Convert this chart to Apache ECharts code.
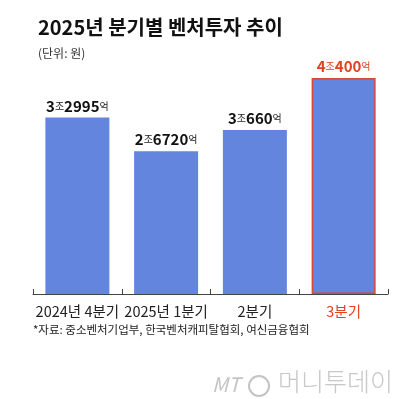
<!DOCTYPE html>
<html>
<head>
<meta charset="utf-8">
<script src="https://cdn.jsdelivr.net/npm/echarts@6/dist/echarts.min.js"></script>
<style>
  html, body { margin: 0; padding: 0; background: #fff; }
  #main { width: 420px; height: 399px; }
</style>
</head>
<body>
<div id="main"></div>
<script>
// 분기별 벤처투자 (단위: 억원)
var quarters = ['2024년 4분기', '2025년 1분기', '2분기', '3분기'];
var amounts = [32995, 26720, 30660, 40400];
var highlightIndex = 3;

var FONT = '"Noto Sans CJK KR", "Noto Sans", sans-serif';
var BLUE = '#6385de';
var RED = '#e2431f';

var chart = echarts.init(document.getElementById('main'));

var barData = amounts.map(function (v, i) {
    var hi = i === highlightIndex;
    return {
        value: v,
        itemStyle: hi ? {color: BLUE, borderColor: '#d9463a', borderWidth: 1.5} : {color: BLUE},
        label: {
            // 3조2995억 형식으로
            formatter: function (p) {
                var jo = Math.floor(p.value / 10000);
                var eok = p.value % 10000;
                var s = hi ? 'r' : 'b';
                return '{' + s + 'n|' + jo + '}{' + s + 'u|조}{' + s + 'n|' + eok + '}{' + s + 'u|억}';
            }
        }
    };
});

var option = {
    backgroundColor: '#fff',
    animation: false,
    title: [{
        text: '2025년 분기별 벤처투자 추이',
        left: 33, top: 12,
        textStyle: {fontFamily: FONT, fontSize: 20, fontWeight: 'bold', color: '#111', letterSpacing: -0.4}
    }, {
        text: '(단위: 원)',
        left: 33, top: 42,
        textStyle: {fontFamily: FONT, fontSize: 12, fontWeight: 'normal', color: '#333'}
    }],
    grid: {left: 33, right: 32, top: 78, bottom: 105},
    xAxis: {
        type: 'category',
        data: quarters,
        axisLine: {lineStyle: {color: '#444', width: 1}},
        axisTick: {show: true, inside: true, length: 5, lineStyle: {color: '#444'}},
        axisLabel: {
            interval: 0,
            margin: 10,
            fontFamily: FONT,
            fontSize: 14.5,
            letterSpacing: -0.3,
            color: function (val, idx) { return idx === highlightIndex ? RED : '#222'; }
        }
    },
    yAxis: {
        type: 'value',
        min: 0,
        max: 40400,
        show: false,
        splitLine: {show: false}
    },
    series: [{
        type: 'bar',
        barWidth: 64,
        data: barData,
        label: {
            show: true,
            position: 'top',
            distance: 4,
            rich: {
                bn: {fontFamily: FONT, fontSize: 15, fontWeight: 'bold', color: '#111', letterSpacing: -1.5},
                bu: {fontFamily: FONT, fontSize: 10, color: '#222'},
                rn: {fontFamily: FONT, fontSize: 15, fontWeight: 'bold', color: RED, letterSpacing: -1.5},
                ru: {fontFamily: FONT, fontSize: 10, color: RED}
            }
        }
    }],
    graphic: [{
        type: 'text',
        left: 33, top: 324,
        style: {text: '*자료: 중소벤처기업부, 한국벤처캐피탈협회, 여신금융협회', fontFamily: FONT, fontSize: 11.5, letterSpacing: -0.9, fill: '#222'}
    }, {
        type: 'text',
        left: 212, top: 374,
        style: {text: 'MT', fontFamily: FONT, fontSize: 20, fontStyle: 'italic', fill: '#c4c4c4'}
    }, {
        type: 'circle',
        shape: {cx: 259, cy: 386, r: 10},
        style: {fill: 'none', stroke: '#c4c4c4', lineWidth: 2}
    }, {
        type: 'text',
        left: 278, top: 369,
        style: {text: '머니투데이', fontFamily: FONT, fontSize: 25, fontWeight: 300, fill: '#c8c8c8'}
    }]
};

chart.setOption(option);
</script>
</body>
</html>
